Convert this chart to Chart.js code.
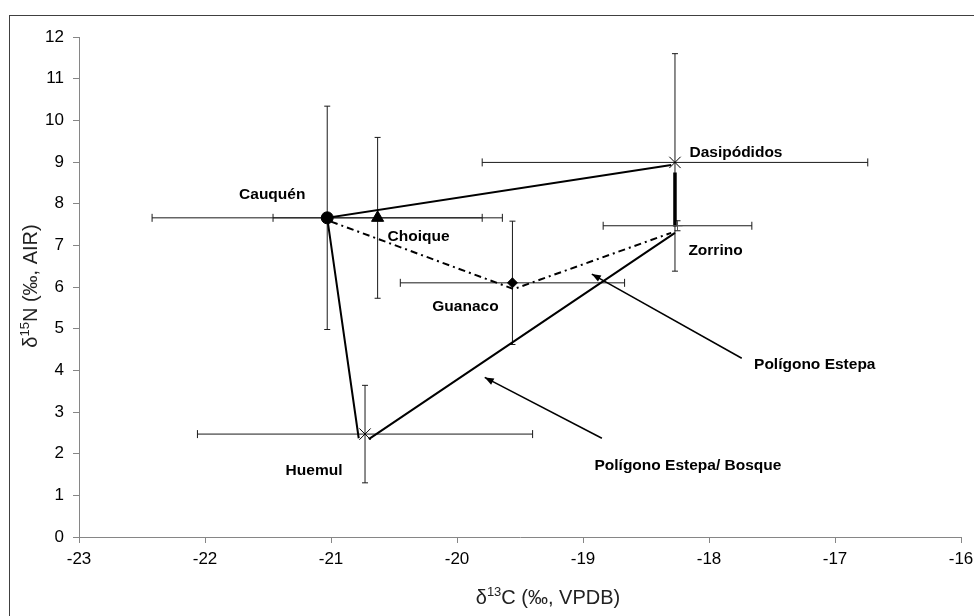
<!DOCTYPE html>
<html lang="es">
<head>
<meta charset="utf-8">
<script src="https://cdn.jsdelivr.net/npm/chart.js@4.4.1/dist/chart.umd.min.js"></script>
<style>
  html, body { margin: 0; padding: 0; background: #fff; overflow: hidden; width: 974px; height: 616px; }
  #grafica { display: block; }
</style>
</head>
<body>
<canvas id="grafica" width="1000" height="616"></canvas>
<script>
// valores medios y desvios por especie
const especies = ["Cauquén", "Choique", "Guanaco", "Dasipódidos", "Zorrino", "Huemul"];
const d13C = [-21.03, -20.63, -19.56, -18.27, -18.25, -20.73];
const d15N = [7.66, 7.66, 6.10, 8.99, 7.47, 2.47];
const sdC = [1.39, 0.83, 0.89, 1.53, 0.59, 1.33];
const sdN = [2.68, 1.93, 1.48, 2.61, 0.12, 1.17];

// poligono estepa / bosque (linea continua), null corta la linea
const bosqueX = [-20.78, -21.03, -18.30, null, -18.27, -20.70];
const bosqueY = [2.37, 7.66, 8.93, null, 7.30, 2.35];
const tramoX = [-18.27, -18.27];
const tramoY = [8.75, 7.45];

// poligono estepa (linea punto-raya)
const estepaX = [-21.00, -19.55, -18.30];
const estepaY = [7.57, 5.95, 7.30];

// flechas: [cola, punta]
const flechaEstepaX = [-17.74, -18.93];
const flechaEstepaY = [4.29, 6.31];
const flechaBosqueX = [-18.85, -19.78];
const flechaBosqueY = [2.37, 3.83];

const textoFlechas = ["Polígono Estepa", "Polígono Estepa/ Bosque"];

const ticksX = [-23, -22, -21, -20, -19, -18, -17, -16];
const ticksY = [0, 1, 2, 3, 4, 5, 6, 7, 8, 9, 10, 11, 12];

// estilos
const fuente = "'Liberation Sans', Arial, sans-serif";
const marcadores = {
  "Cauquén": { pointStyle: "circle", radius: 6 },
  "Choique": { pointStyle: "triangle", radius: 7 },
  "Guanaco": { pointStyle: "rectRot", radius: 5 },
  "Dasipódidos": { pointStyle: "crossRot", radius: 8 },
  "Zorrino": { pointStyle: "cross", radius: 5 },
  "Huemul": { pointStyle: "crossRot", radius: 8 },
};
const desplazEtiquetas = {
  "Cauquén": [-55, -23],
  "Choique": [41, 19],
  "Guanaco": [-47, 24],
  "Dasipódidos": [61, -10],
  "Zorrino": [38, 25],
  "Huemul": [-51, 37],
};
const desplazFlechas = [[73, 6], [86, 27]];

const puntos = (xs, ys) => xs.map((x, i) => ({ x: x, y: ys[i] }));

const dibujarRico = (ctx, partes, x, y) => {
  // partes: [texto, esSuperindice]
  const grande = `20px ${fuente}`;
  const chico = `13px ${fuente}`;
  let total = 0;
  partes.forEach(([t, sup]) => {
    ctx.font = sup ? chico : grande;
    total += ctx.measureText(t).width;
  });
  let cx = x - total / 2;
  ctx.textAlign = "left";
  ctx.textBaseline = "middle";
  partes.forEach(([t, sup]) => {
    ctx.font = sup ? chico : grande;
    ctx.fillText(t, cx, sup ? y - 6 : y);
    cx += ctx.measureText(t).width;
  });
};

const extras = {
  id: "extras",
  beforeDraw: (chart) => {
    const ctx = chart.ctx;
    ctx.save();
    ctx.strokeStyle = "#404040";
    ctx.lineWidth = 1;
    ctx.strokeRect(9.5, 15.5, 1200, 1200);
    ctx.restore();
  },
  beforeDatasetsDraw: (chart) => {
    const ctx = chart.ctx;
    const sx = chart.scales.x;
    const sy = chart.scales.y;
    ctx.save();
    ctx.strokeStyle = "#1a1a1a";
    ctx.lineWidth = 1;
    especies.forEach((e, i) => {
      const px = sx.getPixelForValue(d13C[i]);
      const py = sy.getPixelForValue(d15N[i]);
      const x1 = sx.getPixelForValue(d13C[i] - sdC[i]);
      const x2 = sx.getPixelForValue(d13C[i] + sdC[i]);
      const y1 = sy.getPixelForValue(d15N[i] + sdN[i]);
      const y2 = sy.getPixelForValue(d15N[i] - sdN[i]);
      ctx.beginPath();
      ctx.moveTo(x1, py); ctx.lineTo(x2, py);
      ctx.moveTo(x1, py - 4); ctx.lineTo(x1, py + 4);
      ctx.moveTo(x2, py - 4); ctx.lineTo(x2, py + 4);
      ctx.moveTo(px, y1); ctx.lineTo(px, y2);
      ctx.moveTo(px - 3, y1); ctx.lineTo(px + 3, y1);
      ctx.moveTo(px - 3, y2); ctx.lineTo(px + 3, y2);
      ctx.stroke();
    });
    ctx.restore();
  },
  afterDatasetsDraw: (chart) => {
    const ctx = chart.ctx;
    const sx = chart.scales.x;
    const sy = chart.scales.y;
    ctx.save();
    ctx.fillStyle = "#000";

    // puntas de flecha
    [[flechaEstepaX, flechaEstepaY], [flechaBosqueX, flechaBosqueY]].forEach(([fx, fy]) => {
      const tx = sx.getPixelForValue(fx[0]);
      const ty = sy.getPixelForValue(fy[0]);
      const hx = sx.getPixelForValue(fx[1]);
      const hy = sy.getPixelForValue(fy[1]);
      const ang = Math.atan2(hy - ty, hx - tx);
      ctx.beginPath();
      ctx.moveTo(hx, hy);
      ctx.lineTo(hx - 9 * Math.cos(ang) + 3.5 * Math.sin(ang), hy - 9 * Math.sin(ang) - 3.5 * Math.cos(ang));
      ctx.lineTo(hx - 9 * Math.cos(ang) - 3.5 * Math.sin(ang), hy - 9 * Math.sin(ang) + 3.5 * Math.cos(ang));
      ctx.closePath();
      ctx.fill();
    });

    // etiquetas
    ctx.font = `bold 15.5px ${fuente}`;
    ctx.textAlign = "center";
    ctx.textBaseline = "middle";
    especies.forEach((e, i) => {
      const [dx, dy] = desplazEtiquetas[e];
      ctx.fillText(e, sx.getPixelForValue(d13C[i]) + dx, sy.getPixelForValue(d15N[i]) + dy);
    });
    [[flechaEstepaX, flechaEstepaY], [flechaBosqueX, flechaBosqueY]].forEach(([fx, fy], i) => {
      const [dx, dy] = desplazFlechas[i];
      ctx.fillText(textoFlechas[i], sx.getPixelForValue(fx[0]) + dx, sy.getPixelForValue(fy[0]) + dy);
    });

    // titulos de ejes
    ctx.fillStyle = "#222";
    dibujarRico(ctx, [["δ", false], ["13", true], ["C (‰, VPDB)", false]], 548, 598);
    ctx.translate(31, 286);
    ctx.rotate(-Math.PI / 2);
    dibujarRico(ctx, [["δ", false], ["15", true], ["N (‰, AIR)", false]], 0, 0);
    ctx.restore();
  },
};

class GraficaIsotopos {
  constructor() {
    this.ctx = document.querySelector("#grafica");
    this.render();
  }

  datasetsEspecies = () => {
    return especies.map((e, i) => ({
      label: e,
      data: [{ x: d13C[i], y: d15N[i] }],
      pointStyle: marcadores[e].pointStyle,
      pointRadius: marcadores[e].radius,
      backgroundColor: "#000",
      borderColor: e === "Zorrino" ? "#555" : "#000",
      borderWidth: 1,
      showLine: false,
      order: 0,
    }));
  };

  datasetsLineas = () => {
    const linea = (data, ancho, extra) =>
      Object.assign({
        data: data,
        showLine: true,
        pointRadius: 0,
        borderColor: "#000",
        borderWidth: ancho,
        spanGaps: false,
        order: 1,
      }, extra || {});
    return [
      linea(puntos(bosqueX, bosqueY), 2),
      linea(puntos(tramoX, tramoY), 3.5),
      linea(puntos(estepaX, estepaY), 2, { borderDash: [7, 4, 2, 4] }),
      linea(puntos(flechaEstepaX, flechaEstepaY), 1.5),
      linea(puntos(flechaBosqueX, flechaBosqueY), 1.5),
    ];
  };

  render = () => {
    const eje = (min, max, ticks, padding, ajuste) => ({
      type: "linear",
      min: min,
      max: max,
      afterBuildTicks: (s) => { s.ticks = ticks.map((v) => ({ value: v })); },
      ticks: { color: "#000", font: { size: 17, family: fuente }, padding: padding, maxRotation: 0 },
      grid: { drawOnChartArea: false, drawTicks: true, tickLength: 6, color: "#868686" },
      border: { color: "#868686" },
      afterFit: ajuste,
    });

    new Chart(this.ctx, {
      type: "scatter",
      data: { datasets: [...this.datasetsEspecies(), ...this.datasetsLineas()] },
      options: {
        responsive: false,
        animation: false,
        devicePixelRatio: 1,
        layout: { padding: { left: 0, top: 37, right: 39, bottom: 0 } },
        scales: {
          x: eje(-23, -16, ticksX, 6, (s) => { s.height = 79; }),
          y: eje(0, 12, ticksY, 9, (s) => { s.width = 79; }),
        },
        plugins: {
          legend: { display: false },
          tooltip: { enabled: false },
        },
      },
      plugins: [extras],
    });
  };
}

new GraficaIsotopos();
</script>
</body>
</html>
